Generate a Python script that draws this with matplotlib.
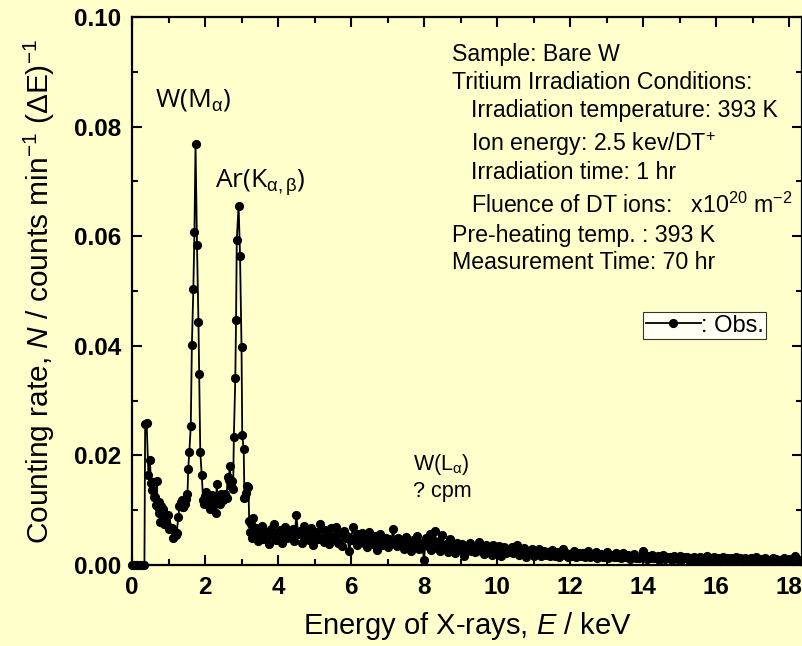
import numpy as np
import matplotlib
matplotlib.use("Agg")
import matplotlib.pyplot as plt
from matplotlib.ticker import MultipleLocator

plt.rcParams['font.family'] = ['Liberation Sans', 'DejaVu Sans']
plt.rcParams['mathtext.fontset'] = 'custom'
plt.rcParams['mathtext.rm'] = 'Liberation Sans'
plt.rcParams['mathtext.it'] = 'Liberation Sans:italic'
plt.rcParams['mathtext.bf'] = 'Liberation Sans:bold'

# low energy part: energy (keV) and rate (x1e-3 counts/min)
low_energy = [0.00, 0.05, 0.10, 0.15, 0.20, 0.25, 0.30, 0.34, 0.36, 0.40,
              0.45, 0.49, 0.52, 0.54, 0.57, 0.60, 0.63, 0.66, 0.68, 0.70,
              0.73, 0.75, 0.77, 0.79, 0.81, 0.84, 0.86, 0.88, 0.91, 0.94,
              0.97, 0.99, 1.02, 1.05, 1.09, 1.13, 1.17, 1.20, 1.22, 1.27,
              1.30, 1.33, 1.36, 1.39, 1.41, 1.45, 1.49, 1.52, 1.54, 1.57,
              1.61, 1.64, 1.68, 1.71, 1.74, 1.78, 1.82, 1.84, 1.87, 1.91,
              1.95, 1.98, 2.01, 2.04, 2.07, 2.10, 2.13, 2.16, 2.19, 2.22,
              2.25, 2.28, 2.30, 2.32, 2.35, 2.38, 2.41, 2.44, 2.47, 2.50,
              2.53, 2.56, 2.59, 2.62, 2.65, 2.68, 2.71, 2.74, 2.77, 2.79,
              2.83, 2.85, 2.87, 2.92, 2.96, 3.00, 3.02, 3.06, 3.08, 3.10,
              3.13, 3.16, 3.19, 3.21, 3.24, 3.27, 3.30, 3.32]
low_rate = [0, 0, 0, 0, 0, 0, 0, 0, 25.7, 26.0,
            16.4, 19.2, 15.0, 13.7, 15.2, 12.4, 12.4, 11.0, 15.4, 10.5,
            11.5, 9.5, 7.9, 10.8, 9.7, 8.5, 10.2, 7.5, 9.0, 8.0,
            7.3, 9.1, 6.5, 6.8, 6.7, 4.9, 6.0, 5.5, 5.8, 8.7,
            10.8, 11.5, 11.9, 10.5, 10.6, 11.2, 12.0, 12.9, 17.6, 20.6,
            25.4, 40.1, 50.3, 60.8, 76.8, 58.4, 44.4, 34.9, 20.7, 16.4,
            11.9, 11.2, 12.5, 13.3, 11.0, 12.8, 10.2, 11.8, 12.8, 10.8,
            12.2, 11.5, 9.5, 14.8, 11.6, 12.5, 11.2, 13.0, 12.0, 11.8,
            12.5, 13.0, 12.2, 16.0, 15.5, 18.1, 14.5, 15.3, 13.8, 23.4,
            34.2, 44.7, 59.3, 65.6, 56.3, 39.8, 23.7, 21.1, 12.2, 12.4,
            13.2, 14.5, 14.2, 8.0, 6.0, 7.5, 5.0, 8.6]

# tail from 3.35 keV to 18.40 keV in 0.05 keV bins (x1e-3 counts/min)
tail_rate = [
    5.2, 6.8, 4.3, 5.9, 7.2, 4.8, 6.1, 5.0, 3.9, 6.5, 5.5, 7.4, 4.6, 5.8, 6.3, 4.1, 5.6, 7.0, 4.9, 6.0,
    5.3, 6.6, 4.4, 9.2, 5.7, 6.2, 4.0, 7.1, 5.1, 5.9, 4.5, 6.8, 3.6, 5.4, 6.1, 4.8, 7.5, 5.0, 4.2, 6.4,
    5.5, 3.8, 6.7, 4.6, 5.2, 7.0, 4.1, 5.8, 3.4, 6.2, 4.9, 5.3, 2.6, 4.5, 6.9, 5.0, 3.7, 5.6, 4.3, 5.9,
    4.0, 5.4, 3.3, 6.1, 4.7, 3.9, 5.2, 2.8, 4.6, 5.7, 3.6, 4.4, 5.0, 3.2, 4.8, 3.9, 6.6, 4.1, 3.5, 4.9,
    3.7, 4.5, 2.9, 5.1, 3.8, 4.2, 2.5, 4.6, 3.4, 5.3, 3.0, 4.0, 3.6, 1.0, 4.9, 3.5, 5.6, 2.8, 4.3, 6.2,
    3.1, 4.4, 2.6, 5.5, 3.3, 3.9, 2.4, 4.7, 3.0, 3.6, 2.2, 4.1, 3.2, 2.7, 3.8, 1.6, 3.4, 2.9, 4.0, 2.5,
    3.5, 2.3, 3.0, 4.2, 2.6, 3.3, 2.0, 3.7, 2.8, 3.1, 1.9, 3.6, 2.5, 2.9, 3.4, 1.7, 2.7, 3.2, 2.2, 3.0,
    2.4, 3.3, 2.1, 2.8, 3.6, 1.8, 2.6, 2.3, 3.1, 1.5, 2.5, 2.0, 2.9, 1.7, 2.4, 2.2, 3.0, 1.6, 2.3, 2.6,
    1.9, 2.4, 1.6, 2.8, 2.0, 1.7, 2.3, 1.4, 2.1, 3.0, 1.8, 2.2, 1.5, 2.0, 1.7, 2.5, 1.4, 1.9, 2.1, 1.6,
    2.2, 1.5, 1.8, 2.6, 1.4, 1.9, 1.6, 2.3, 1.3, 1.7, 2.0, 1.5, 1.8, 2.4, 1.2, 1.6, 1.9, 1.4, 2.1, 1.5,
    1.7, 1.3, 2.2, 1.5, 1.4, 1.8, 1.1, 1.6, 2.0, 1.3, 1.5, 1.2, 1.7, 2.5, 1.4, 1.1, 1.6, 1.3, 1.9, 1.2,
    1.4, 1.6, 1.0, 1.3, 1.8, 1.1, 1.5, 1.2, 1.4, 0.9, 1.6, 1.3, 1.1, 1.7, 1.0, 1.4, 1.2, 1.5, 0.9, 1.3,
    1.1, 1.5, 0.9, 1.2, 1.4, 1.0, 1.3, 0.8, 1.6, 1.1, 1.2, 0.9, 1.4, 1.0, 1.3, 0.8, 1.1, 1.5, 0.9, 1.2,
    1.0, 1.3, 0.8, 1.1, 1.4, 0.9, 1.2, 1.0, 0.7, 1.3, 1.1, 0.9, 1.2, 0.8, 1.0, 1.4, 0.9, 1.1, 0.7, 1.0,
    1.2, 0.8, 1.0, 0.9, 1.3, 0.7, 1.1, 0.9, 1.0, 0.8, 1.2, 0.7, 1.0, 0.9, 1.1, 0.8, 1.6, 0.9, 1.0, 0.8,
    1.0, 0.9]
tail_energy = np.linspace(3.35, 18.40, len(tail_rate))

energy = np.concatenate([low_energy, tail_energy])
rate = np.concatenate([low_rate, tail_rate]) * 1e-3

info_lines = [
    ("Sample: Bare W", 0),
    ("Tritium Irradiation Conditions:", 0),
    ("Irradiation temperature: 393 K", 1),
    ("Ion energy: 2.5 kev/DT$^{+}$", 1),
    ("Irradiation time: 1 hr", 1),
    ("Fluence of DT ions:   x10$^{20}$ m$^{-2}$", 1),
    ("Pre-heating temp. : 393 K", 0),
    ("Measurement Time: 70 hr", 0),
]
info_y = [0.0936, 0.0885, 0.0834, 0.0774, 0.0721, 0.0661, 0.0606, 0.0557]

bg = '#FFFFCC'
fig = plt.figure(figsize=(8.03, 6.46), dpi=100, facecolor=bg)
ax = fig.add_axes([0.1644, 0.1254, 0.8346, 0.8483])
ax.set_facecolor(bg)

ax.plot(energy, rate, '-o', color='black', lw=1.3, ms=5.6, label=': Obs.', clip_on=False)

ax.set_xlim(0, 18.36)
ax.set_ylim(0, 0.10)
ax.xaxis.set_major_locator(MultipleLocator(2))
ax.xaxis.set_minor_locator(MultipleLocator(1))
ax.yaxis.set_major_locator(MultipleLocator(0.02))
ax.yaxis.set_minor_locator(MultipleLocator(0.01))
ax.yaxis.set_major_formatter(matplotlib.ticker.FormatStrFormatter('%.2f'))
ax.tick_params(which='both', direction='in', top=True, right=True, width=1.5)
ax.tick_params(which='major', length=7, pad=8, labelsize=17.5)
ax.tick_params(which='minor', length=4.5)
for lab in ax.get_xticklabels() + ax.get_yticklabels():
    lab.set_fontweight('bold')
for sp in ax.spines.values():
    sp.set_linewidth(1.6)

ax.set_xlabel('Energy of X-rays, $E$ / keV', fontsize=21)
ax.set_ylabel('Counting rate, $N$ / counts min$^{-1}$ (ΔE)$^{-1}$', fontsize=21.5)
ax.xaxis.set_label_coords(0.5, -0.083)
ax.yaxis.set_label_coords(-0.112, 0.5)

ax.text(0.63, 0.0849, r'W(M$_{\mathrm{\alpha}}$)', fontsize=19, family='Open Sans', va='center')
ax.text(2.27, 0.0697, r'Ar(K$_{\mathrm{\alpha,\beta}}$)', fontsize=19, family='Open Sans', va='center')
ax.text(7.70, 0.0190, r'W(L$_{\mathrm{\alpha}}$)', fontsize=15.5, va='center_baseline')
ax.text(7.70, 0.0139, '? cpm', fontsize=15.5, va='center_baseline')

for (line, indent), y in zip(info_lines, info_y):
    ax.text(8.77 + 0.52 * indent, y, line, fontsize=16.7, va='center_baseline')

leg = ax.legend(loc='upper left', bbox_to_anchor=(0.763, 0.462), fontsize=17,
                frameon=True, fancybox=False, handlelength=2.3, handletextpad=0.0,
                borderpad=0.12, borderaxespad=0)
leg.get_frame().set_edgecolor('black')
leg.get_frame().set_linewidth(0.8)

fig.savefig('out.png', dpi=100, facecolor=bg)
